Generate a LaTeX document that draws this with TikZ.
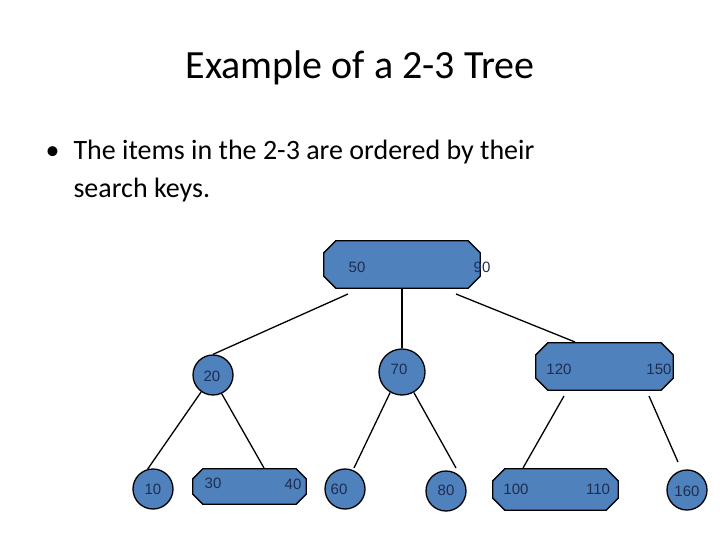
\documentclass[tikz,border=0pt]{standalone}
\usepackage{fontspec}
\setmainfont{Carlito}
\newfontfamily\keyfont{Liberation Sans}
\definecolor{nodeblue}{HTML}{4F81BD}
\definecolor{keyink}{HTML}{1F2D50}

% octagonal key box: name, x, y, half width, half height, chamfer
\newcommand{\keybox}[6]{%
  \node [inner sep=0pt, minimum width=2*#4pt, minimum height=2*#5pt] (#1) at (#2,#3) {};
  \path [boxline] ($(#1.north west)+(#6,0)$) -- ($(#1.north east)+(-#6,0)$) -- ($(#1.north east)+(0,#6)$)
    -- ($(#1.south east)+(0,-#6)$) -- ($(#1.south east)+(-#6,0)$) -- ($(#1.south west)+(#6,0)$)
    -- ($(#1.south west)+(0,-#6)$) -- ($(#1.north west)+(0,#6)$) -- cycle;}

\usetikzlibrary{calc}

\begin{document}
\begin{tikzpicture}[
    x=1pt, y=-1pt,
    circ/.style ={circle, draw=black, line width=1.3pt, fill=nodeblue, minimum size=40pt, inner sep=0pt},
    boxline/.style ={draw=black, line width=1.3pt, fill=nodeblue},
    key/.style ={font=\keyfont\fontsize{15}{15}\selectfont, text=keyink, inner sep=0pt},
    line/.style ={draw, line width=1.3pt},
]
\useasboundingbox (0,0) rectangle (720,540);

% Text
\node (title) at (360,68) {\fontsize{40}{40}\selectfont Example of a 2-3 Tree};
\node [anchor=base west] (bullet) at (42,160) {\fontsize{28}{28}\selectfont •};
\node [anchor=base west] (line1) at (70,160) {\fontsize{28}{28}\selectfont The items in the 2-3 are ordered by their};
\node [anchor=base west] (line2) at (70,198) {\fontsize{28}{28}\selectfont search keys.};

% Nodes
\keybox{root}{402}{264.5}{78}{23.5}{12}
\keybox{n120}{604.5}{366.5}{68.5}{23.5}{12}
\keybox{n30}{249.5}{486.5}{56.5}{17.5}{10}
\keybox{n100}{555.5}{489.5}{62.5}{20.5}{12}
\node [circ] (n20) at (213,375) {};
\node [circ, minimum size=46pt] (n70) at (402,372) {};
\node [circ] (n10) at (153,489) {};
\node [circ] (n60) at (345,489) {};
\node [circ] (n80) at (446,491) {};
\node [circ] (n160) at (687,490) {};

% Keys
\node [key] (k50) at (357,267) {50};
\node [key] (k90) at (482,267) {90};
\node [key] (k20) at (212,376) {20};
\node [key] (k70) at (399,369) {70};
\node [key] (k120) at (559,369) {120};
\node [key] (k150) at (659,369) {150};
\node [key] (k10) at (153,489) {10};
\node [key] (k30) at (213,483) {30};
\node [key] (k40) at (293,484) {40};
\node [key] (k60) at (339,489) {60};
\node [key] (k80) at (446,490) {80};
\node [key] (k100) at (516,489) {100};
\node [key] (k110) at (598,489) {110};
\node [key] (k160) at (687,491) {160};

% Line ends
\coordinate (rl) at (348,294);
\coordinate (rr) at (456,294);
\coordinate (e120) at (575,342);
\coordinate (c120) at (564,396);
\coordinate (c150) at (649,396);
\coordinate (e30) at (264,468);
\coordinate (e60) at (354,468);
\coordinate (e80) at (456,468);
\coordinate (e100) at (523,468);
\coordinate (e160) at (678,462);

% Lines
\path [line] (rl) -- (n20.north);
\path [line] (root.south) -- (n70.north);
\path [line] (rr) -- (e120);
\path [line] (n20.235) -- (n10.105);
\path [line] (n20.-65) -- (e30);
\path [line] (n70.240) -- (e60);
\path [line] (n70.-60) -- (e80);
\path [line] (c120) -- (e100);
\path [line] (c150) -- (e160);

\end{tikzpicture}
\end{document}
